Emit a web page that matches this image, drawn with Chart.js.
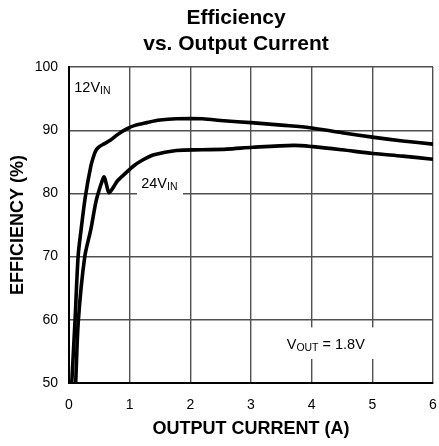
<!DOCTYPE html>
<html>
<head>
<meta charset="utf-8">
<script src="https://cdn.jsdelivr.net/npm/chart.js@4/dist/chart.umd.min.js"></script>
<style>
html,body{margin:0;padding:0;background:#fff;}
#wrap{width:439px;height:446px;position:relative;}
</style>
</head>
<body>
<div id="wrap"><canvas id="effChart"></canvas></div>
<script>
// values
const current12=[0.045,0.10,0.15,0.20,0.27,0.36,0.41,0.45,0.50,0.57,0.68,0.80,0.95,1.10,1.28,1.50,1.77,2.20,2.55,3.00,3.50,3.97,4.50,5.00,5.50,6.00];
const eff12    =[50,   60,  70,  74.3,79.5,84.3,86.0,86.9,87.4,87.8,88.4,89.3,90.2,90.8,91.2,91.6,91.8,91.8,91.5,91.2,90.8,90.4,89.6,88.9,88.3,87.8];
const current24=[0.11,0.155,0.26,0.36,0.44,0.49,0.54,0.58,0.62,0.66,0.72,0.80,0.91,1.06,1.20,1.40,1.77,2.20,2.60,3.03,3.70,4.02,4.50,5.01,5.50,6.00];
const eff24    =[50,  60,   70,  74.3,78.5,80.3,81.8,82.6,81.3,80.1,80.8,82.0,83.0,84.3,85.2,86.1,86.8,86.9,87.0,87.3,87.6,87.4,86.9,86.3,85.9,85.4];
const xMin=0, xMax=6, xStep=1;
const yMin=50, yMax=100, yStep=10;
const titleLines=["Efficiency","vs. Output Current"];

const FONT='"Liberation Sans", Arial, Helvetica, sans-serif';
const pts=(xs,ys)=>xs.map((x,i)=>({x,y:ys[i]}));

// text with a subscript part, drawn at data coords
function subText(ctx,x,y,main,sub,rest,size){
  ctx.font=size+'px '+FONT;
  ctx.fillText(main,x,y);
  let w=ctx.measureText(main).width;
  ctx.font=(size*0.72)+'px '+FONT;
  ctx.fillText(sub,x+w,y+2.5);
  w+=ctx.measureText(sub).width;
  if(rest){ctx.font=size+'px '+FONT; ctx.fillText(rest,x+w,y); w+=ctx.measureText(rest).width;}
  return w;
}

const labelsPlugin={
  id:'labels',
  beforeDatasetsDraw(chart){
    const {ctx,scales:{x,y}}=chart;
    ctx.save();
    ctx.fillStyle='#fff';
    // white boxes behind the in-plot labels
    ctx.fillRect(x.getPixelForValue(1.12),y.getPixelForValue(82.6),x.getPixelForValue(1.88)-x.getPixelForValue(1.12),y.getPixelForValue(79.4)-y.getPixelForValue(82.6));
    ctx.fillRect(x.getPixelForValue(3.48),y.getPixelForValue(58.8),x.getPixelForValue(5.08)-x.getPixelForValue(3.48),y.getPixelForValue(53.8)-y.getPixelForValue(58.8));
    ctx.fillStyle='#000';
    ctx.textBaseline='alphabetic';
    ctx.textAlign='left';
    subText(ctx,x.getPixelForValue(0.087),y.getPixelForValue(96.1),'12V','IN','',14.5);
    subText(ctx,x.getPixelForValue(1.19),y.getPixelForValue(80.9),'24V','IN','',14.5);
    subText(ctx,x.getPixelForValue(3.59),y.getPixelForValue(55.45),'V','OUT',' = 1.8V',14.5);
    ctx.restore();
  },
  afterDraw(chart){
    const ctx=chart.ctx;
    ctx.save();
    ctx.fillStyle='#000';
    ctx.textAlign='center';
    ctx.textBaseline='alphabetic';
    ctx.font='bold 21px '+FONT;
    ctx.fillText(titleLines[0],236,24);
    ctx.fillText(titleLines[1],236,50);
    ctx.restore();
  }
};

const lineStyle={borderColor:'#000',borderWidth:3.6,pointRadius:0,showLine:true,tension:0.3,fill:false};

new Chart(document.getElementById('effChart'),{
  type:'scatter',
  data:{datasets:[
    Object.assign({label:'12V',data:pts(current12,eff12)},lineStyle),
    Object.assign({label:'24V',data:pts(current24,eff24)},lineStyle)
  ]},
  options:{
    responsive:true,maintainAspectRatio:false,animation:false,
    layout:{padding:{top:67,right:0,left:0,bottom:0}},
    plugins:{legend:{display:false},tooltip:{enabled:false},title:{display:false}},
    scales:{
      x:{type:'linear',min:xMin,max:xMax,
        afterFit:s=>{s.height=63;s.paddingRight=6;},
        ticks:{stepSize:xStep,color:'#000',font:{family:FONT,size:14},padding:14},
        grid:{color:'#505050',lineWidth:1.4,drawTicks:false},
        border:{color:'#000',width:2},
        title:{display:true,text:'OUTPUT CURRENT (A)',color:'#000',font:{family:FONT,size:18,weight:'bold'},padding:{top:4,bottom:6}}},
      y:{type:'linear',min:yMin,max:yMax,
        afterFit:s=>{s.width=69;},
        ticks:{stepSize:yStep,color:'#000',font:{family:FONT,size:14},padding:11},
        grid:{color:'#505050',lineWidth:1.4,drawTicks:false},
        border:{color:'#000',width:2},
        title:{display:true,text:'EFFICIENCY (%)',color:'#000',font:{family:FONT,size:18,weight:'bold'},padding:{top:7,bottom:4}}}
    }
  },
  plugins:[labelsPlugin]
});
</script>
</body>
</html>
